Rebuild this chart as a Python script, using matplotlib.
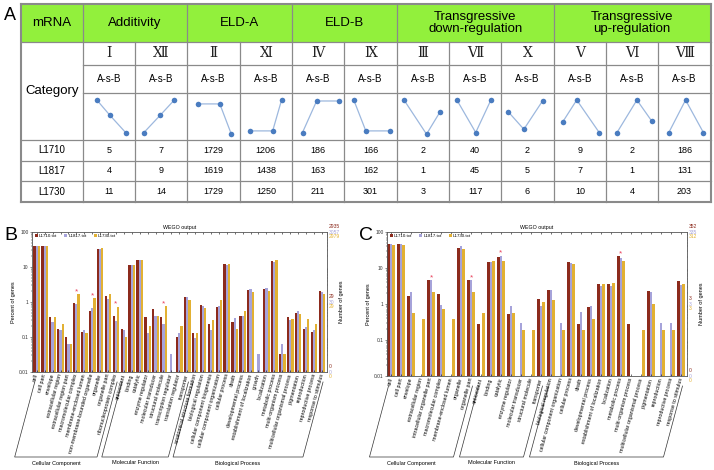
import numpy as np
import matplotlib
matplotlib.use('Agg')
import matplotlib.pyplot as plt
from matplotlib.patches import Rectangle

plt.rcParams['font.family'] = ['Liberation Sans', 'DejaVu Sans']

# ---------------- panel A: table data
mrna_groups = ['Additivity', 'ELD-A', 'ELD-B', 'Transgressive\ndown-regulation', 'Transgressive\nup-regulation']
group_cols = [2, 2, 2, 3, 3]
categories = ['Ⅰ', 'Ⅻ', 'Ⅱ', 'Ⅺ', 'Ⅳ', 'Ⅸ', 'Ⅲ', 'Ⅶ', 'Ⅹ', 'Ⅴ', 'Ⅵ', 'Ⅷ']
row_names = ['L1710', 'L1817', 'L1730']
n_l1710 = [5, 7, 1729, 1206, 186, 166, 2, 40, 2, 9, 2, 186]
n_l1817 = [4, 9, 1619, 1438, 163, 162, 1, 45, 5, 7, 1, 131]
n_l1730 = [11, 14, 1729, 1250, 211, 301, 3, 117, 6, 10, 4, 203]

# A-s-B pattern sketches: x within the cell, level 0=low .. 1=high
pat_x = [[0.27, 0.52, 0.82], [0.17, 0.48, 0.75], [0.20, 0.62, 0.84], [0.20, 0.63, 0.80],
         [0.20, 0.47, 0.89], [0.18, 0.41, 0.88], [0.14, 0.57, 0.83], [0.15, 0.51, 0.80],
         [0.13, 0.43, 0.79], [0.17, 0.44, 0.87], [0.21, 0.59, 0.87], [0.20, 0.52, 0.86]]
pat_level = [[1, 0.53, 0], [0, 0.53, 1], [0.88, 0.88, -0.05], [0.05, 0.05, 1],
             [0, 0.97, 0.97], [1, 0.05, 0.05], [1, -0.05, 0.64], [1, 0, 1],
             [0.64, 0.1, 0.98], [0.32, 1, 0], [0, 1, 0.36], [0, 1, 0]]

# ---------------- panel B: WEGO (percent of genes)
b_cc = ['cell', 'cell part', 'envelope', 'extracellular region', 'extracellular region part',
        'macromolecular complex', 'membrane-enclosed lumen', 'non-membrane-bounded organelle',
        'organelle', 'organelle part', 'ribonucleoprotein complex']
b_mf = ['antioxidant', 'binding', 'catalytic', 'enzyme regulator', 'molecular transducer',
        'structural molecule', 'transcription regulator', 'translation regulator', 'transporter']
b_bp = ['anatomical structure formation', 'biological regulation', 'cellular component biogenesis',
        'cellular component organization', 'cellular process', 'death', 'developmental process',
        'establishment of localization', 'growth', 'localization', 'metabolic process',
        'multi-organism process', 'multicellular organismal process', 'pigmentation',
        'reproduction', 'reproductive process', 'response to stimulus']
b_l1710 = [41, 41, 0.37, 0.17, 0.10, 0.95, 0.135, 0.57, 33.5, 1.45, 0.40,
           0.17, 11.2, 16.2, 0.37, 0.62, 0.37, 0, 0.10, 1.39,
           0.133, 0.84, 0.23, 0.72, 11.9, 0.27, 0.40, 2.15, 0, 2.4, 14.8, 0.033, 0.37, 0.50, 0.166, 0.135, 2.05]
b_l1817 = [41, 41, 0.26, 0.16, 0.065, 0.86, 0.16, 0.69, 33.5, 1.25, 0.29,
           0.16, 11.2, 15.5, 0.13, 0.39, 0.23, 0.032, 0.13, 1.39,
           0.095, 0.78, 0.16, 0.75, 11.5, 0.36, 0.40, 2.3, 0.032, 2.5, 13.9, 0.065, 0.31, 0.55, 0.19, 0.16, 1.94]
b_l1730 = [41, 41, 0.37, 0.23, 0.065, 1.65, 0.13, 1.27, 35, 1.66, 0.72,
           0.10, 11.2, 16.2, 0.20, 0.39, 0.75, 0, 0.20, 1.17,
           0.13, 0.66, 0.30, 1.12, 11.9, 0.166, 0.54, 1.89, 0, 2.05, 15.6, 0.033, 0.32, 0.44, 0.32, 0.23, 1.73]
b_stars = [5, 7, 10, 16]
b_totals = [2935, 3057, 2979]
b_ones = [29, 30, 29]

# ---------------- panel C
c_cc = ['cell', 'cell part', 'envelope', 'extracellular region', 'intracellular organelle part',
        'macromolecular complex', 'membrane-enclosed lumen', 'organelle', 'organelle part']
c_mf = ['antioxidant', 'binding', 'catalytic', 'enzyme regulator', 'molecular transducer',
        'structural molecule', 'transporter']
c_bp = ['biological regulation', 'cellular component organization', 'cellular process', 'death',
        'developmental process', 'establishment of localization', 'localization', 'metabolic process',
        'multi-organism process', 'multicellular organismal process', 'pigmentation',
        'reproduction', 'reproductive process', 'response to stimulus']
c_l1710 = [45, 45, 1.63, 0, 4.5, 1.94, 0, 36.7, 4.5,
           0.27, 14.7, 20.2, 0.54, 0, 0, 1.35,
           2.5, 0, 14.7, 0.27, 0.83, 3.67, 3.67, 21, 0.27, 0, 2.3, 0, 0, 4.26]
c_l1817 = [46, 46, 2.15, 0, 4.5, 0.92, 0, 41, 4.5,
           0, 14.3, 21.6, 0.88, 0.30, 0, 0.90,
           2.4, 0.30, 13.7, 0.60, 0.88, 3.1, 3.1, 19, 0, 0, 2.15, 0.30, 0.30, 3.4]
c_l1730 = [43, 43, 0.58, 0.375, 2.1, 0.74, 0.375, 34, 2.1,
           0.58, 15.6, 15.6, 0.58, 0.19, 0.19, 1.14,
           1.32, 0.19, 12.6, 0.19, 0.375, 3.67, 3.9, 15.3, 0, 0.19, 0.98, 0.19, 0.19, 3.6]
c_stars = [4, 8, 11, 23]
c_totals = [352, 335, 312]
c_ones = [3, 3, 3]

legend_names = ['L1710.txt', 'L1817.txt', 'L1730.txt']
colors = ['#8c2a1c', '#a6a3da', '#e2b133']

W, H = 714, 470
fig = plt.figure(figsize=(W / 100, H / 100), dpi=100)
bg = fig.add_axes([0, 0, 1, 1])
bg.set_xlim(0, W)
bg.set_ylim(H, 0)
bg.axis('off')

# ---------------- table
left, right, c0 = 20.7, 710.7, 82.7
edges = np.linspace(c0, right, len(categories) + 1)
ry = [4, 41.7, 65, 92.7, 140, 160.7, 181, 202.3]
gc = '#8a8a8a'
bg.add_patch(Rectangle((left, ry[0]), right - left, ry[1] - ry[0], fc='#92f03c', ec='none'))
for k, y in enumerate(ry):
    xs = c0 if k in (2, 3) else left
    bg.plot([xs, right], [y, y], color=gc, lw=1.5 if k in (0, len(ry) - 1) else 0.9)
bounds = np.cumsum([0] + group_cols)
for j, x in enumerate(edges):
    top = ry[0] if j in bounds else ry[1]
    bg.plot([x, x], [top, ry[-1]], color=gc, lw=1.5 if j == len(edges) - 1 else 0.9)
bg.plot([left, left], [ry[0], ry[-1]], color=gc, lw=1.5)

bg.text((left + c0) / 2, (ry[0] + ry[1]) / 2, 'mRNA', ha='center', va='center', fontsize=9.5)
for name, a, b in zip(mrna_groups, bounds[:-1], bounds[1:]):
    bg.text((edges[a] + edges[b]) / 2, (ry[0] + ry[1]) / 2, name, ha='center', va='center',
            fontsize=9.5, linespacing=1.0)
bg.text((left + c0) / 2, (ry[1] + ry[4]) / 2, 'Category', ha='center', va='center', fontsize=9.5)
for j, cat in enumerate(categories):
    xc = (edges[j] + edges[j + 1]) / 2
    bg.text(xc, (ry[1] + ry[2]) / 2, cat, ha='center', va='center', fontsize=10,
            family=['DejaVu Serif', 'DejaVu Sans'], color='#222222')
    bg.text(xc, (ry[2] + ry[3]) / 2, 'A-s-B', ha='center', va='center', fontsize=7)
    pa = fig.add_axes([edges[j] / W, 1 - ry[4] / H, (edges[j + 1] - edges[j]) / W, (ry[4] - ry[3]) / H])
    pa.set_xlim(0, 1)
    pa.set_ylim(-0.23, 1.225)
    pa.axis('off')
    pa.plot(pat_x[j], pat_level[j], '-', color='#9db8de', lw=0.9)
    pa.plot(pat_x[j], pat_level[j], 'o', color='#4a7cc0', ms=4, mec='none')
for r, (name, vals) in enumerate(zip(row_names, [n_l1710, n_l1817, n_l1730])):
    y = (ry[4 + r] + ry[5 + r]) / 2
    bg.text((left + c0) / 2, y, name, ha='center', va='center', fontsize=7)
    for j, v in enumerate(vals):
        bg.text((edges[j] + edges[j + 1]) / 2, y, str(v), ha='center', va='center', fontsize=6.5)

bg.text(10, 15, 'A', ha='center', va='center', fontsize=13)
bg.text(11, 236, 'B', ha='center', va='center', fontsize=14)
bg.text(366, 236, 'C', ha='center', va='center', fontsize=14)


def wego(box, cc, mf, bp, series, stars, totals, ones, xlim, bw):
    x0, y0, x1, y1 = box
    ax = fig.add_axes([x0 / W, 1 - y1 / H, (x1 - x0) / W, (y1 - y0) / H])
    terms = cc + mf + bp
    x = np.arange(len(terms))
    for k, (vals, col, lab) in enumerate(zip(series, colors, legend_names)):
        v = np.array(vals, dtype=float)
        v[v <= 0] = np.nan
        ax.bar(x + (k - 1) * bw, v, bw, color=col, label=lab, linewidth=0)
    ax.set_yscale('log')
    ax.set_ylim(0.01, 100)
    ax.set_xlim(*xlim)
    top = np.nanmax(np.array(series, dtype=float), axis=0)
    for i in stars:
        ax.annotate('*', (i, top[i]), xytext=(0, -0.5), textcoords='offset points',
                    ha='center', va='bottom', color='#e8405a', fontsize=6)
    ax.set_yticks([0.01, 0.1, 1, 10, 100])
    ax.set_yticklabels(['0.01', '0.1', '1', '10', '100'])
    ax.set_xticks(x)
    ax.set_xticklabels(terms, rotation=75, ha='right', va='center', rotation_mode='anchor')
    ax.tick_params(axis='x', labelsize=3.8, length=1.2, width=0.4, pad=1.5, top=True, direction='in')
    ax.tick_params(axis='y', labelsize=3.5, length=1.5, width=0.4, pad=1, colors='#333333')
    ax.tick_params(axis='y', which='minor', length=1, width=0.3, right=True)
    for s in ax.spines.values():
        s.set_linewidth(0.6)
        s.set_color('#555555')
    ax.set_ylabel('Percent of genes', fontsize=4, labelpad=2)
    ax.text(1.048, 0.5, 'Number of genes', rotation=90, transform=ax.transAxes,
            ha='center', va='center', fontsize=4)
    ax.set_title('WEGO output', fontsize=3.8, pad=2)
    for level, labs in [(100, totals), (1, ones), (0.01, [0, 0, 0])]:
        for k, (t, col) in enumerate(zip(labs, colors)):
            ax.annotate(str(t), xy=(1, level), xycoords=('axes fraction', 'data'),
                        xytext=(2, 5 - 5 * k), textcoords='offset pixels',
                        ha='left', va='center', fontsize=3.6, color=col)
    ax.legend(ncol=3, loc='upper left', bbox_to_anchor=(0, 1.005), fontsize=3.2,
              handlelength=0.6, handleheight=0.6, handletextpad=0.3, columnspacing=1.6,
              frameon=False, borderaxespad=0.3)

    # category brackets below the labels
    ang = np.deg2rad(75)
    ytop, ybot = y1 + 10, 457
    dx = (ybot - ytop) / np.tan(ang)
    start = 0
    for name, grp in zip(['Cellular Component', 'Molecular Function', 'Biological Process'], [cc, mf, bp]):
        first, last = start, start + len(grp) - 1
        start += len(grp)
        xl = ax.transData.transform((first - 0.25, 1))[0]
        xr = ax.transData.transform((last + 0.15, 1))[0]
        bg.plot([xl, xl - dx, xr - dx, xr], [ytop, ybot, ybot, ytop], color='#333333', lw=0.5)
        bg.text((xl + xr) / 2 - dx, 463, name, ha='center', va='center', fontsize=4)
    return ax


wego((32, 232, 327, 372), b_cc, b_mf, b_bp, [b_l1710, b_l1817, b_l1730],
     b_stars, b_totals, b_ones, (-0.6, 36.65), 0.28)
wego((387, 232, 687, 376), c_cc, c_mf, c_bp, [c_l1710, c_l1817, c_l1730],
     c_stars, c_totals, c_ones, (-0.4, 29.6), 0.24)

fig.savefig('out.png', dpi=100)
